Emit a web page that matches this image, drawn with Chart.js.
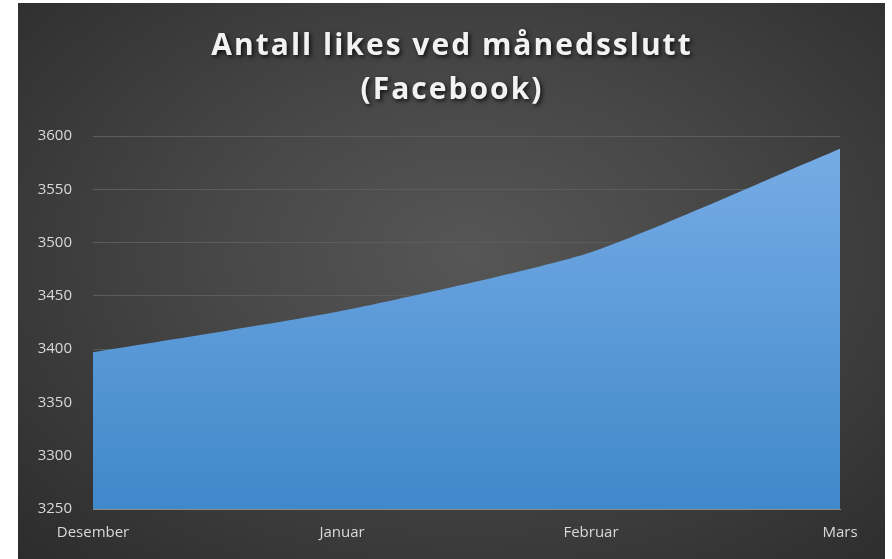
<!DOCTYPE html>
<html>
<head>
<meta charset="utf-8">
<script src="https://cdn.jsdelivr.net/npm/chart.js@4.4.1/dist/chart.umd.min.js"></script>
<style>
  html, body { margin: 0; padding: 0; background: #fff; }
  #box {
    position: absolute; left: 18px; top: 3px; width: 867px; height: 556px;
    background: radial-gradient(ellipse at 52% 45%, #565656 0%, #474747 40%, #2c2c2c 100%);
  }
</style>
</head>
<body>
<div id="box"><canvas id="areaChart" width="867" height="556"></canvas></div>
<script>
// data
var months = ["Desember", "Januar", "Februar", "Mars"];
var likes = [3397, 3436, 3491, 3588];
var yMin = 3250, yMax = 3600, yStep = 50;

// shadow + spacing on the title text only
const titleShadow = {
  id: "titleShadow",
  afterLayout(chart) {
    const tb = chart.titleBlock;
    if (tb && !tb._shadowed) {
      const orig = tb.draw.bind(tb);
      tb.draw = function () {
        const ctx = chart.ctx;
        ctx.save();
        ctx.translate(23, 0);
        ctx.letterSpacing = "2px";
        ctx.shadowColor = "rgba(0,0,0,0.75)";
        ctx.shadowBlur = 4;
        ctx.shadowOffsetX = 2;
        ctx.shadowOffsetY = 2;
        orig();
        ctx.restore();
      };
      tb._shadowed = true;
    }
  }
};

new Chart("areaChart", {
  type: "line",
  plugins: [titleShadow],
  data: {
    labels: months,
    datasets: [{
      label: "Likes",
      data: likes,
      fill: "start",
      borderWidth: 0,
      pointRadius: 0,
      tension: 0.2,
      backgroundColor: (ctx) => {
        const area = ctx.chart.chartArea;
        if (!area) return "#5599dd";
        const g = ctx.chart.ctx.createLinearGradient(0, area.top, 0, area.bottom);
        g.addColorStop(0, "#78ade6");
        g.addColorStop(1, "#4088ca");
        return g;
      }
    }]
  },
  options: {
    responsive: false,
    animation: false,
    layout: {
      padding: { left: 0, right: 45, top: 0, bottom: 10 }
    },
    plugins: {
      legend: { display: false },
      tooltip: { enabled: false },
      title: {
        display: true,
        text: ["Antall likes ved månedsslutt", "(Facebook)"],
        color: "#f2f2f2",
        font: { family: "Open Sans", size: 30, weight: "bold", lineHeight: 1.45 },
        padding: { top: 22, bottom: 24 }
      }
    },
    scales: {
      x: {
        offset: false,
        grid: { display: false },
        border: { display: true, color: "#8c8c8c", width: 1 },
        ticks: {
          color: "#d9d9d9",
          font: { family: "Open Sans", size: 15 },
          padding: 7,
          maxRotation: 0
        }
      },
      y: {
        min: yMin,
        max: yMax,
        afterFit: (scale) => { scale.width = 75; },
        grid: { color: "#5c5c5c", lineWidth: 1, drawTicks: false },
        border: { display: false },
        ticks: {
          stepSize: yStep,
          color: "#d9d9d9",
          font: { family: "Open Sans", size: 15 },
          padding: 21,
          callback: (v) => String(v)
        }
      }
    }
  }
});
</script>
</body>
</html>
